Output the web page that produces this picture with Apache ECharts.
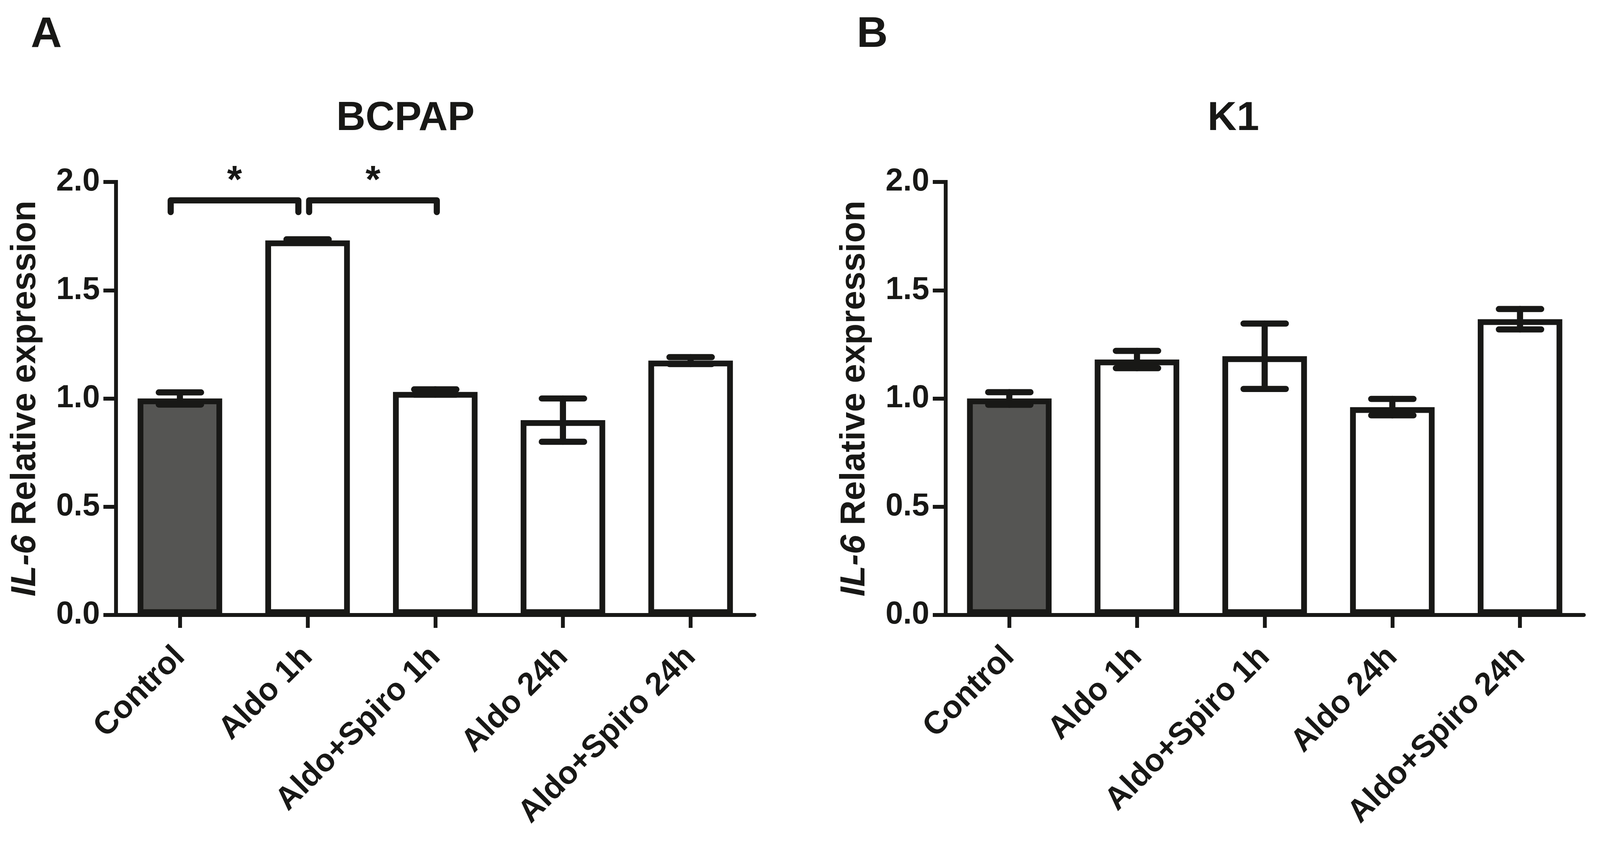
<!DOCTYPE html>
<html>
<head>
<meta charset="utf-8">
<title>IL-6 relative expression</title>
<script src="https://cdn.jsdelivr.net/npm/echarts@6/dist/echarts.min.js"></script>
<style>
  html, body { margin: 0; padding: 0; background: #fff; overflow: hidden; }
  #main { width: 100vw; height: 100vh; }
</style>
</head>
<body>
<div id="main"></div>
<script>
// groups on the x axis (same for both panels)
var categories = ['Control', 'Aldo 1h', 'Aldo+Spiro 1h', 'Aldo 24h', 'Aldo+Spiro 24h'];

// panel A - BCPAP, mean and SEM
var bcpapMean = [1.00, 1.73, 1.03, 0.90, 1.175];
var bcpapSem  = [0.028, 0.005, 0.012, 0.10, 0.016];

// panel B - K1
var k1Mean = [1.00, 1.18, 1.195, 0.96, 1.366];
var k1Sem  = [0.029, 0.04, 0.151, 0.038, 0.047];

// significance brackets: [from group, to group, y of bracket, mark]
var bcpapSig = [[0, 1, 1.915, '*'], [1, 2, 1.915, '*']];
var k1Sig = [];

// y axis
var yMin = 0, yMax = 2, yStep = 0.5;

var INK = '#181816';
var DARK = '#555553';
var FONT = '"Liberation Sans", Arial, sans-serif';

// layout was measured on a 4163 x 2182 picture, scale it to the real viewport
var el = document.getElementById('main');
var sx = el.clientWidth / 4163, sy = el.clientHeight / 2182;
var s = Math.min(sx, sy);
function X(v) { return v * sx; }
function Y(v) { return v * sy; }
function P(v) { return v * s; }

var BRACKET_SHIFT = [-24, 4];   // px, keeps neighbouring brackets apart

var chart = echarts.init(el);

function errRows(mean, sem) {
    return mean.map(function (m, i) { return [i, m - sem[i], m + sem[i]]; });
}

function renderErr(params, api) {
    var top = api.coord([api.value(0), api.value(2)]);
    var bot = api.coord([api.value(0), api.value(1)]);
    var hw = X(55);
    var st = { stroke: INK, lineWidth: P(16), lineCap: 'round', fill: null };
    return {
        type: 'group',
        children: [
            { type: 'line', shape: { x1: top[0], y1: top[1], x2: bot[0], y2: bot[1] }, style: st },
            { type: 'line', shape: { x1: top[0] - hw, y1: top[1], x2: top[0] + hw, y2: top[1] }, style: st },
            { type: 'line', shape: { x1: bot[0] - hw, y1: bot[1], x2: bot[0] + hw, y2: bot[1] }, style: st }
        ]
    };
}

function renderSig(params, api) {
    var shift = X(BRACKET_SHIFT[params.dataIndex] || 0);
    var a = api.coord([api.value(0), api.value(2)]);
    var b = api.coord([api.value(1), api.value(2)]);
    var x1 = a[0] + shift, x2 = b[0] + shift, y = a[1];
    var leg = Y(30);
    return {
        type: 'group',
        children: [
            {
                type: 'polyline',
                shape: { points: [[x1, y + leg], [x1, y], [x2, y], [x2, y + leg]] },
                style: { stroke: INK, lineWidth: P(16), lineCap: 'round', lineJoin: 'round', fill: null }
            },
            {
                type: 'text',
                x: (x1 + x2) / 2,
                y: y - Y(47),
                style: {
                    text: api.value(3) ? '*' : '',
                    font: 'bold ' + P(100) + 'px ' + FONT,
                    fill: INK,
                    align: 'center',
                    verticalAlign: 'middle'
                }
            }
        ]
    };
}

function xAxisFor(idx) {
    return {
        type: 'category',
        gridIndex: idx,
        data: categories,
        axisLine: { show: true, lineStyle: { color: INK, width: P(10) } },
        axisTick: { show: true, alignWithLabel: true, length: Y(33), lineStyle: { color: INK, width: P(10) } },
        axisLabel: {
            interval: 0,
            rotate: 45,
            margin: Y(95),
            color: INK,
            fontSize: P(83),
            fontWeight: 'bold',
            fontFamily: FONT
        },
        splitLine: { show: false }
    };
}

function yAxisFor(idx) {
    return {
        type: 'value',
        gridIndex: idx,
        min: yMin,
        max: yMax,
        interval: yStep,
        name: '{it|IL-6} Relative expression',
        nameLocation: 'middle',
        nameGap: X(190),
        nameTextStyle: {
            color: INK,
            fontSize: P(90),
            fontWeight: 'bold',
            fontFamily: FONT,
            rich: {
                it: { color: INK, fontSize: P(90), fontWeight: 'bold', fontStyle: 'italic', fontFamily: FONT }
            }
        },
        axisLine: { show: true, lineStyle: { color: INK, width: P(10), cap: 'square' } },
        axisTick: { show: true, length: X(33), lineStyle: { color: INK, width: P(10) } },
        axisLabel: {
            margin: X(42),
            color: INK,
            fontSize: P(82),
            fontWeight: 'bold',
            fontFamily: FONT,
            formatter: function (v) { return v.toFixed(1); }
        },
        splitLine: { show: false }
    };
}

function barSeries(idx, mean) {
    return {
        type: 'bar',
        xAxisIndex: idx,
        yAxisIndex: idx,
        barWidth: X(220),
        data: mean,
        z: 2,
        itemStyle: {
            color: function (p) { return p.dataIndex === 0 ? DARK : '#ffffff'; },
            borderColor: INK,
            borderWidth: P(15)
        }
    };
}

function errSeries(idx, mean, sem) {
    return {
        type: 'custom',
        xAxisIndex: idx,
        yAxisIndex: idx,
        data: errRows(mean, sem),
        encode: { x: 0, y: [1, 2] },
        renderItem: renderErr,
        z: 4
    };
}

function sigSeries(idx, sig) {
    return {
        type: 'custom',
        xAxisIndex: idx,
        yAxisIndex: idx,
        data: sig.map(function (r) { return [r[0], r[1], r[2], r[3] ? 1 : 0]; }),
        encode: { x: [0, 1], y: 2 },
        renderItem: renderSig,
        z: 5
    };
}

function label(text, x, y, size, align) {
    return {
        type: 'text',
        x: X(x),
        y: Y(y),
        style: {
            text: text,
            font: 'bold ' + P(size) + 'px ' + FONT,
            fill: INK,
            align: align,
            verticalAlign: 'middle'
        }
    };
}

var option = {
    animation: false,
    backgroundColor: '#ffffff',
    grid: [
        { left: X(302), top: Y(466), width: X(1661), height: Y(1109), outerBoundsMode: 'none' },
        { left: X(2460), top: Y(466), width: X(1661), height: Y(1109), outerBoundsMode: 'none' }
    ],
    xAxis: [xAxisFor(0), xAxisFor(1)],
    yAxis: [yAxisFor(0), yAxisFor(1)],
    series: [
        barSeries(0, bcpapMean),
        errSeries(0, bcpapMean, bcpapSem),
        sigSeries(0, bcpapSig),
        barSeries(1, k1Mean),
        errSeries(1, k1Mean, k1Sem),
        sigSeries(1, k1Sig)
    ],
    graphic: [
        label('A', 80, 90, 112, 'left'),
        label('B', 2229, 90, 112, 'left'),
        label('BCPAP', 1055, 305, 105, 'center'),
        label('K1', 3209, 305, 105, 'center')
    ]
};

chart.setOption(option);
</script>
</body>
</html>
